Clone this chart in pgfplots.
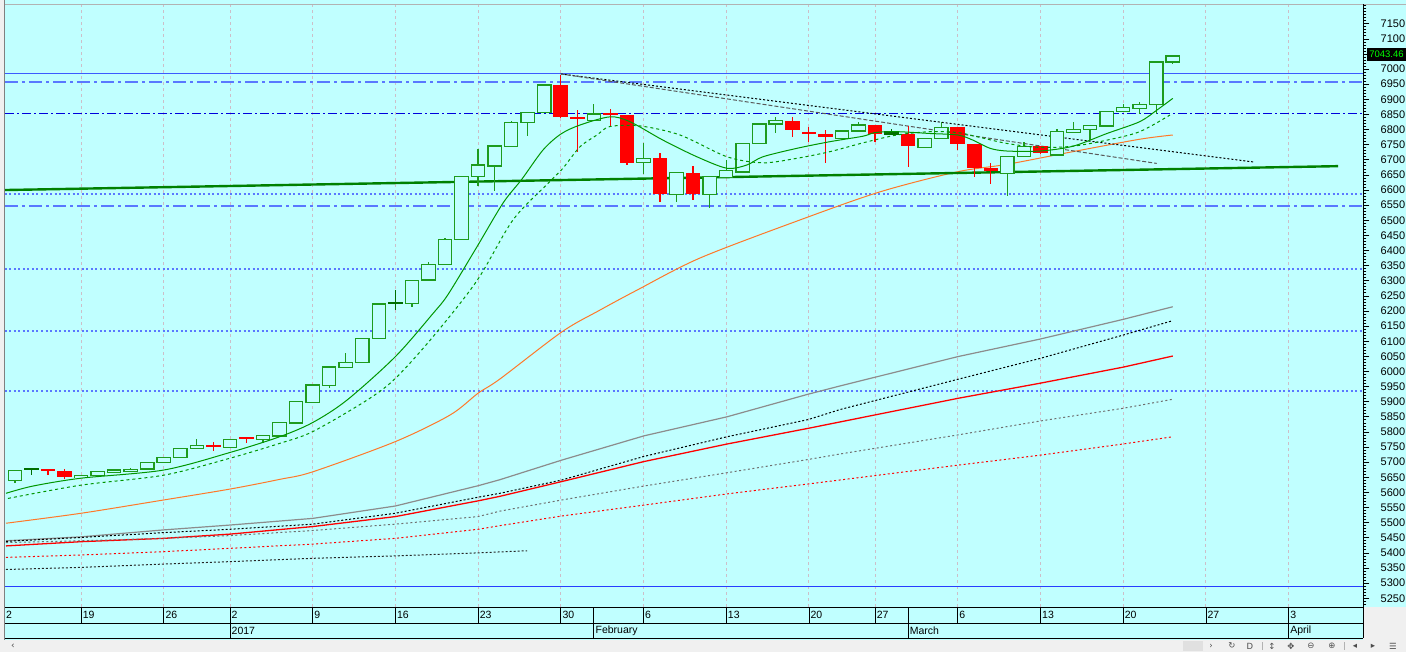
\documentclass[border=0pt]{standalone}
\usepackage{fontspec}
\setmainfont{Liberation Sans}
\newfontfamily\dejavu{DejaVu Sans}
\usepackage{pgfplots}
\usepackage{pgfplotstable}
\pgfplotsset{compat=1.18}
\definecolor{bgc}{RGB}{192,255,255}
\definecolor{gridc}{RGB}{205,190,200}
\definecolor{cgreen}{RGB}{30,155,30}
\definecolor{dgreen}{RGB}{0,110,0}
\definecolor{supg}{RGB}{0,128,0}
\definecolor{magreen}{RGB}{0,150,0}
\definecolor{orng}{RGB}{255,120,40}
\definecolor{blueA}{RGB}{60,90,255}
\definecolor{blueL}{RGB}{90,120,255}
\definecolor{blueD}{RGB}{0,0,220}
\definecolor{blueS}{RGB}{40,60,255}
\definecolor{grayS}{RGB}{140,140,140}
\definecolor{grayD}{RGB}{110,110,110}
\definecolor{winbg}{RGB}{240,240,240}

\pgfdeclareplotmark{nomark}{}
\pgfplotsset{candle/.style={only marks, mark=nomark,
  error bars/.cd, y dir=both, y explicit, error mark=none}}

% bullish (hollow green) candles: index o h l c
\pgfplotstableread{
i o h l c
-33 5639 5675 5632 5673
-29 5649 5658 5647 5655
-28 5655 5671 5653 5670
-27 5668 5678 5666 5674
-26 5671 5682 5669 5676
-25 5677 5700 5676 5699
-24 5699 5717 5698 5716
-23 5715 5748 5713 5746
-22 5746 5776 5745 5754
-20 5749 5776 5748 5775
-18 5775 5790 5762 5789
-17 5787 5833 5786 5832
-16 5830 5901 5829 5900
-15 5898 5956 5897 5955
-14 5953 6016 5944 6015
-13 6014 6060 6013 6030
-12 6030 6110 6029 6109
-11 6109 6224 6108 6223
-9 6225 6303 6214 6302
-8 6302 6363 6300 6354
-7 6354 6440 6353 6437
-6 6437 6645 6436 6644
-5 6644 6735 6613 6683
-4 6680 6747 6598 6746
-3 6745 6829 6744 6824
-2 6824 6858 6778 6857
-1 6857 6949 6855 6947
2 6831 6883 6830 6851
5 6691 6754 6653 6705
7 6586 6659 6559 6658
9 6586 6645 6539 6644
10 6642 6699 6641 6664
11 6660 6755 6659 6754
12 6754 6819 6753 6818
13 6818 6842 6789 6829
17 6771 6796 6770 6795
18 6795 6825 6794 6815
22 6741 6772 6740 6771
23 6771 6826 6770 6807
27 6655 6713 6581 6712
28 6712 6760 6711 6745
30 6716 6801 6715 6793
31 6791 6826 6790 6801
32 6801 6815 6765 6814
33 6812 6861 6811 6860
34 6859 6883 6858 6872
35 6870 6892 6853 6883
36 6883 7025 6851 7024
37 7024 7045 7016 7043.46
}\bull

% bearish (red) candles
\pgfplotstableread{
i o h l c
-31 5675 5679 5657 5673
-30 5671 5676 5643 5652
-21 5754 5768 5738 5752
-19 5781 5783 5764 5779
0 6949 6982 6837 6842
1 6841 6864 6727 6838
3 6852 6867 6812 6849
4 6848 6849 6683 6690
6 6705 6721 6559 6586
8 6658 6679 6567 6586
14 6829 6842 6774 6798
15 6793 6807 6760 6785
16 6784 6798 6690 6774
19 6814 6815 6760 6787
21 6787 6812 6675 6745
24 6807 6808 6732 6754
25 6752 6753 6644 6672
26 6672 6688 6620 6663
29 6745 6746 6718 6721
}\bear

% dark green crosses
\pgfplotstableread{
i o h l c
-32 5675 5680 5657 5677
-10 6224 6269 6203 6226
20 6782 6803 6781 6795
}\doji

\begin{document}
\begin{tikzpicture}
\useasboundingbox (0pt,0pt) rectangle (1406pt,652pt);
\fill[bgc] (0pt,0pt) rectangle (1406pt,652pt);
\fill[winbg] (0pt,0pt) rectangle (1406pt,12pt);
\fill[winbg] (1363pt,12pt) rectangle (1406pt,45pt);
\fill[winbg] (0pt,12pt) rectangle (4pt,652pt);

\begin{axis}[
  at={(5pt,45pt)}, anchor=south west,
  width=1358pt, height=602pt, scale only axis,
  xmin=-33.6, xmax=48.5, ymin=5221, ymax=7212,
  axis line style={draw=none},
  axis background/.style={fill=bgc},
  xtick={-29,-24,-20,-15,-10,-5,0,5,10,15,19,24,29,34,39,44},
  xticklabels={},
  xtick style={draw=none},
  xmajorgrids,
  major x grid style={gridc, line width=0.8pt, dash pattern=on 3pt off 3pt},
  ytick={5250,5300,...,7000,7100,7150},
  extra y ticks={7050},
  extra y tick labels={},
  extra y tick style={ytick style={black, line width=0.7pt}, xmajorgrids=false},
  minor ytick={5230,5240,...,7210},
  ytick pos=right, yticklabel pos=right,
  tick align=outside,
  major tick length=6.5pt, minor tick length=3.5pt,
  ytick style={black, line width=0.7pt},
  yticklabel style={font=\fontsize{11}{11}\selectfont, anchor=west, inner sep=0pt, xshift=11pt},
  /pgf/number format/1000 sep={},
  /pgf/number format/assume math mode=true,
]
% horizontal levels
\addplot[blueA, line width=1.5pt] coordinates {(-33.6,6986) (48.5,6986)};
\addplot[blueL, line width=2.2pt, dash pattern=on 13pt off 4pt on 3pt off 4pt] coordinates {(-33.6,6957) (48.5,6957)};
\addplot[blueD, line width=1.3pt, dash pattern=on 9pt off 3pt on 2pt off 3pt] coordinates {(-33.6,6854) (48.5,6854)};
\addplot[blueL, line width=2pt, dash pattern=on 2pt off 2.5pt] coordinates {(-33.6,6587) (48.5,6587)};
\addplot[blueL, line width=2.2pt, dash pattern=on 13pt off 4pt on 3pt off 4pt] coordinates {(-33.6,6548) (48.5,6548)};
\addplot[blueL, line width=2pt, dash pattern=on 2pt off 2.5pt] coordinates {(-33.6,6339) (48.5,6339)};
\addplot[blueL, line width=2pt, dash pattern=on 2pt off 2.5pt] coordinates {(-33.6,6135) (48.5,6135)};
\addplot[blueL, line width=2pt, dash pattern=on 2pt off 2.5pt] coordinates {(-33.6,5935) (48.5,5935)};
\addplot[blueS, line width=1.5pt] coordinates {(-33.6,5288) (48.5,5288)};

% long-term averages
\addplot[grayS, line width=1.2pt] coordinates {(-33.54,5440) (-29,5453) (-24,5476) (-20,5492) (-15,5514) (-10,5555) (-5,5622) (-3.68,5642) (0.07,5707) (5.03,5787) (10.05,5850) (14.97,5925) (16.88,5952) (24,6049) (28.97,6107) (33.98,6172) (37,6214)};
\addplot[black, line width=1pt, dash pattern=on 2pt off 2pt] coordinates {(-33.54,5438) (-29,5451) (-24,5467) (-20,5478) (-15,5495) (-10,5531) (-5,5584) (-3.68,5597) (0.07,5641) (5.03,5719) (10.05,5784) (14.97,5841) (16.88,5874) (24,5974) (28.97,6043) (33.98,6120) (37,6168)};
\addplot[red, line width=1.3pt] coordinates {(-33.54,5423) (-29,5437) (-24,5448) (-20,5462) (-15,5487) (-10,5520) (-5,5572) (-3.68,5587) (0.07,5636) (5.03,5702) (10.05,5760) (14.97,5812) (16.88,5833) (24,5911) (28.97,5961) (33.98,6014) (37,6051)};
\addplot[grayD, line width=1pt, dash pattern=on 2pt off 2.5pt] coordinates {(-33.54,5434) (-29,5440) (-24,5448) (-20,5457) (-15,5474) (-10,5495) (-5,5520) (-3.68,5538) (0.07,5575) (5.03,5621) (10.05,5665) (14.97,5709) (16.88,5727) (24,5790) (28.97,5836) (33.98,5878) (37,5908)};
\addplot[red, line width=1pt, dash pattern=on 2pt off 2.5pt] coordinates {(-33.54,5385) (-29,5393) (-24,5404) (-20,5415) (-15,5429) (-10,5448) (-5,5478) (-3.68,5490) (0.07,5522) (5.03,5558) (10.05,5595) (14.97,5628) (16.88,5641) (24,5690) (28.97,5723) (33.98,5760) (37,5784)};
\addplot[black!85, line width=1pt, dash pattern=on 2pt off 2pt] coordinates {(-33.54,5345) (-29,5352) (-24,5363) (-20,5371) (-15,5382) (-10,5390) (-5,5400) (-2.04,5407)};
\addplot[orng, line width=1pt, smooth] coordinates {(-33.54,5498) (-29,5531) (-24,5575) (-20,5611) (-17,5643) (-15,5668) (-10,5768) (-6.69,5856) (-5,5928) (-3.68,5975) (0.07,6131) (2.37,6203) (4.61,6269) (8.41,6375) (14.46,6501) (19.3,6594) (23.95,6660) (26.98,6685) (30.97,6727) (35,6768) (37,6782)};

% support and trend lines
\addplot[supg, line width=2.4pt] coordinates {(-33.6,6600) (47,6679)};
\addplot[black, line width=1pt, dash pattern=on 2pt off 2pt] coordinates {(0,6984) (41.86,6693)};
\addplot[black!65, line width=1pt, dash pattern=on 4pt off 2pt] coordinates {(0,6984) (36.03,6688)};

% candles: wicks
\addplot[candle, error bar style={draw=cgreen, line width=1.2pt}]
  table[x=i, y expr={(\thisrow{h}+\thisrow{l})/2}, y error expr={(\thisrow{h}-\thisrow{l})/2}] {\bull};
\addplot[candle, error bar style={draw=red, line width=1.2pt}]
  table[x=i, y expr={(\thisrow{h}+\thisrow{l})/2}, y error expr={(\thisrow{h}-\thisrow{l})/2}] {\bear};
\addplot[candle, error bar style={draw=dgreen, line width=1.2pt}]
  table[x=i, y expr={(\thisrow{h}+\thisrow{l})/2}, y error expr={(\thisrow{h}-\thisrow{l})/2}] {\doji};
% bodies
\addplot[candle, error bar style={draw=cgreen, line width=14.6pt}]
  table[x=i, y expr={(\thisrow{o}+\thisrow{c})/2}, y error expr={abs(\thisrow{c}-\thisrow{o})/2+2.2}] {\bull};
\addplot[candle, error bar style={draw=bgc, line width=12.2pt}]
  table[x=i, y expr={(\thisrow{o}+\thisrow{c})/2}, y error expr={max(abs(\thisrow{c}-\thisrow{o})/2-2.2,0)}] {\bull};
\addplot[candle, error bar style={draw=red, line width=14.6pt}]
  table[x=i, y expr={(\thisrow{o}+\thisrow{c})/2}, y error expr={max(abs(\thisrow{c}-\thisrow{o})/2,3.3)}] {\bear};
\addplot[candle, error bar style={draw=dgreen, line width=14.6pt}]
  table[x=i, y expr={(\thisrow{o}+\thisrow{c})/2}, y error expr={max(abs(\thisrow{c}-\thisrow{o})/2,3.3)}] {\doji};

% short-term averages
\addplot[magreen, line width=1pt, smooth, tension=0.5] coordinates {(-33.54,5597) (-31.91,5621) (-29,5647) (-24,5674) (-20,5732) (-17,5784) (-15,5831) (-12.93,5905) (-10,6049) (-7.72,6192) (-6.81,6255) (-5.07,6412) (-3.49,6557) (-2.35,6636) (-1.08,6732) (0,6785) (1.16,6815) (2.97,6842) (4.18,6826) (6.18,6765) (8.23,6710) (10.05,6672) (11.26,6683) (12.22,6710) (14.28,6738) (16.28,6760) (18.27,6778) (19,6790) (20.32,6793) (22.32,6787) (24,6782) (24.92,6765) (25.95,6738) (26.98,6729) (28.97,6729) (30.97,6745) (33.02,6787) (35,6826) (36.03,6864) (37,6903)};
\addplot[magreen, line width=1pt, dash pattern=on 3pt off 3pt, smooth, tension=0.5] coordinates {(-33.42,5580) (-29,5624) (-24,5657) (-20,5713) (-17,5762) (-15,5801) (-11.72,5905) (-10,5977) (-7.72,6115) (-5.07,6300) (-2.89,6501) (-0.77,6622) (0.13,6672) (1.16,6743) (2.19,6782) (2.97,6810) (4.79,6812) (7.21,6782) (10.05,6710) (12.22,6690) (14.28,6705) (16.28,6727) (18.27,6756) (20.32,6782) (22.32,6793) (24,6790) (25.35,6774) (26.98,6754) (28.97,6741) (30.97,6745) (33.02,6765) (35,6793) (36.83,6848)};
\end{axis}

% frame
\draw[gray, line width=1.2pt] (4.6pt,12pt) -- (4.6pt,652pt);
\draw[gray!60, line width=1pt] (4.6pt,647.6pt) -- (1406pt,647.6pt);
\draw[black, line width=0.8pt] (1363pt,14pt) -- (1363pt,648pt);
\draw[black, line width=0.8pt] (5pt,45pt) -- (1363pt,45pt);
\draw[black, line width=0.8pt] (5pt,29pt) -- (1363pt,29pt);
\draw[black, line width=0.8pt] (5pt,14pt) -- (1363pt,14pt);

% date rows
\foreach \i/\t in {-29/19,-24/26,-20/2,-15/9,-10/16,-5/23,0/30,5/6,10/13,15/20,19/27,24/6,29/13,34/20,39/27,44/3}{
  \pgfmathsetmacro\xx{560.8+16.541*\i}
  \draw[black, line width=0.8pt] (\xx pt,29pt) -- (\xx pt,45pt);
  \node[anchor=west, inner sep=0pt, font=\fontsize{10.5}{12}\selectfont] at (\xx pt+1.5pt,37pt) {\t};
}
\node[anchor=west, inner sep=0pt, font=\fontsize{10.5}{12}\selectfont] at (6pt,37pt) {2};
\foreach \i/\t in {-20/2017,2/February,21/March,44/April}{
  \pgfmathsetmacro\xx{560.8+16.541*\i}
  \draw[black, line width=0.8pt] (\xx pt,14pt) -- (\xx pt,45pt);
  \node[anchor=west, inner sep=0pt, font=\fontsize{10.5}{12}\selectfont] at (\xx pt+1.5pt,21.5pt) {\t};
}

% last price box
\fill[black] (1367pt,591pt) rectangle (1406pt,604pt);
\node[text=green, inner sep=0pt, font=\fontsize{9.5}{10}\selectfont] at (1386.5pt,597.5pt) {7043.46};

% scrollbar
\node[text=black!70, font=\dejavu\fontsize{9}{10}\selectfont] at (13pt,5.5pt) {‹};
\fill[black!12] (1183pt,1pt) rectangle (1203pt,11pt);
\foreach \x/\s in {1211/›,1232/↻,1250/D,1272/↕,1291/✥,1311/⊖,1332/⊕,1355/◂,1373/▸,1393/☰}{
  \node[text=black!70, inner sep=0pt, font=\dejavu\fontsize{8.5}{10}\selectfont] at (\x pt,6pt) {\s};
}
\draw[black!30] (1262pt,2pt) -- (1262pt,10pt);
\draw[black!30] (1344pt,2pt) -- (1344pt,10pt);
\end{tikzpicture}
\end{document}
